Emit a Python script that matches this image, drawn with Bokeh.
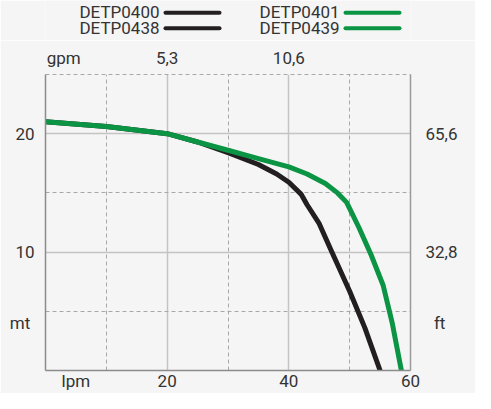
from bokeh.plotting import figure
from bokeh.layouts import column
from bokeh.models import Range1d, LinearAxis, FixedTicker, Grid
from bokeh.core.properties import value
from bokeh.embed import file_html
from bokeh.resources import INLINE

# ---- data ----
flow_black = [0, 10, 20, 25, 30, 35, 38, 40, 42, 43, 45, 47, 50, 52.5, 55]
head_black = [21.0, 20.6, 20.0, 19.3, 18.4, 17.4, 16.6, 15.9, 14.9, 14.0, 12.4, 10.1, 6.7, 3.6, 0.0]

flow_green = [0, 10, 20, 25, 30, 35, 40, 43, 46, 48, 49.5, 51.5, 53.5, 55.5, 57, 58.5]
head_green = [21.0, 20.6, 20.0, 19.3, 18.6, 17.9, 17.2, 16.6, 15.8, 15.0, 14.2, 12.1, 9.8, 7.2, 4.0, 0.0]

names_black = ["DETP0400", "DETP0438"]
names_green = ["DETP0401", "DETP0439"]

lpm_ticks = [5, 20, 40, 60]
lpm_labels = ["lpm", "20", "40", "60"]
gpm_ticks = [3, 20, 40]
gpm_labels = ["gpm", "5,3", "10,6"]
mt_ticks = [4, 10, 20]
mt_labels = ["mt\u00a0", "10", "20"]
ft_ticks = [4, 10, 20]
ft_labels = ["\u00a0\u00a0ft", "32,8", "65,6"]

x_solid = [20, 40, 60]
x_dash = [10, 30, 50]
y_solid = [10, 20]
y_dash = [5, 15]

BLACK = "#231f20"
GREEN = "#0b9444"
TEXT = "#333333"
FONT = "Roboto"
BG = "#f5f5f5"
W = 475
LEG_H = 40
FRAME_L = 45
FRAME_R = 410

# ---------------- legend strip (frame is aligned with main chart frame) ----------------
leg = figure(width=W, height=LEG_H, output_backend="svg", toolbar_location=None,
             x_range=Range1d(FRAME_L, FRAME_R), y_range=Range1d(LEG_H, 0),
             x_axis_location=None, y_axis_location=None,
             min_border_left=FRAME_L, min_border_right=W - FRAME_R, min_border_top=0, min_border_bottom=0,
             background_fill_color=BG, border_fill_color=BG, outline_line_color=None)
leg.grid.visible = False
row_y = [11.5, 27.0]
line_y = [r + 0.8 for r in row_y]
leg.text(x=[159, 159], y=row_y, text=names_black, text_align="right", text_baseline="middle",
         text_font=value(FONT), text_font_size="17px", text_color=TEXT)
leg.segment(x0=[165, 165], y0=line_y, x1=[219, 219], y1=line_y,
            line_color=BLACK, line_width=4, line_cap="round")
leg.text(x=[259, 259], y=row_y, text=names_green, text_align="left", text_baseline="middle",
         text_font=value(FONT), text_font_size="17px", text_color=TEXT)
leg.segment(x0=[345, 345], y0=line_y, x1=[399, 399], y1=line_y,
            line_color=GREEN, line_width=4, line_cap="round")

# ---------------- main chart ----------------
p = figure(width=W, height=393 - LEG_H, output_backend="svg", toolbar_location=None,
           x_range=Range1d(0, 60), y_range=Range1d(0, 25),
           x_axis_location=None, y_axis_location=None,
           min_border_left=FRAME_L, min_border_right=W - FRAME_R, min_border_top=74 - LEG_H, min_border_bottom=20,
           background_fill_color=BG, border_fill_color=BG, outline_line_color=None)
p.grid.visible = False


def style_axis(ax, ticks, labels, standoff):
    ax.ticker = FixedTicker(ticks=ticks)
    ax.major_label_overrides = {t: l for t, l in zip(ticks, labels)}
    ax.major_tick_line_color = None
    ax.minor_tick_line_color = None
    ax.major_tick_out = 0
    ax.major_tick_in = 0
    ax.minor_tick_out = 0
    ax.minor_tick_in = 0
    ax.major_label_text_font = FONT
    ax.major_label_text_font_size = "17px"
    ax.major_label_text_color = TEXT
    ax.major_label_standoff = standoff
    return ax


bottom = style_axis(LinearAxis(), lpm_ticks, lpm_labels, 0)
bottom.axis_line_color = "#8c8c8c"
bottom.axis_line_width = 1.5
p.add_layout(bottom, "below")

top = style_axis(LinearAxis(), gpm_ticks, gpm_labels, 7)
top.axis_line_color = "#a8a8a8"
top.axis_line_width = 1
top.axis_line_dash = "4 3"
p.add_layout(top, "above")

left = style_axis(LinearAxis(), mt_ticks, mt_labels, 11)
left.axis_line_color = "#8c8c8c"
left.axis_line_width = 1.5
p.add_layout(left, "left")

right = style_axis(LinearAxis(), ft_ticks, ft_labels, 15)
right.axis_line_color = "#9a9a9a"
right.axis_line_width = 1.5
p.add_layout(right, "right")

# grids
p.add_layout(Grid(dimension=0, ticker=FixedTicker(ticks=x_solid), grid_line_color="#c4c4c4", grid_line_width=1.5))
p.add_layout(Grid(dimension=0, ticker=FixedTicker(ticks=x_dash), grid_line_color="#a8a8a8", grid_line_width=1, grid_line_dash="4 3"))
p.add_layout(Grid(dimension=1, ticker=FixedTicker(ticks=y_solid), grid_line_color="#c4c4c4", grid_line_width=1.5))
p.add_layout(Grid(dimension=1, ticker=FixedTicker(ticks=y_dash), grid_line_color="#a8a8a8", grid_line_width=1, grid_line_dash="4 3"))

# curves
p.line(flow_black, head_black, line_color=BLACK, line_width=5, line_join="round", line_cap="round")
p.line(flow_green, head_green, line_color=GREEN, line_width=5, line_join="round", line_cap="round")

layout = column(leg, p, spacing=0)
open("out.html", "w").write(file_html(layout, INLINE))
